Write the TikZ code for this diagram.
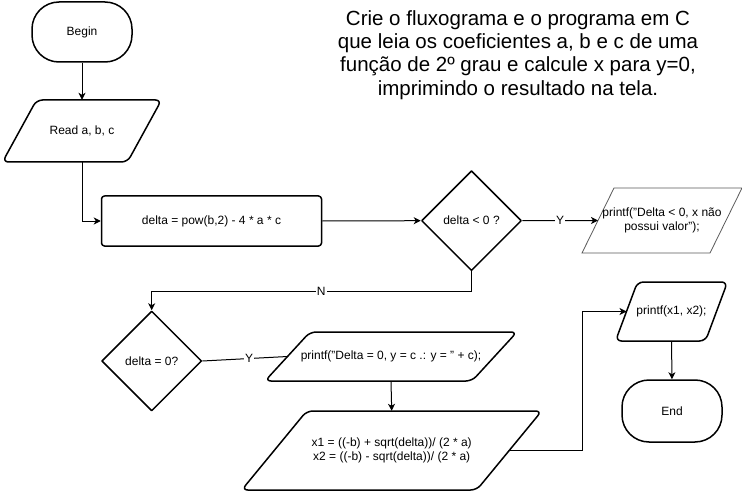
\documentclass[tikz,border=0pt]{standalone}
\usepackage{fontspec}
\setmainfont{Liberation Sans}
\usetikzlibrary{shapes.geometric,arrows.meta}
\tikzset{
  shp/.style={draw=black, line width=1.5pt, line join=round},
  term/.style={shp, rectangle, rounded corners=27pt, minimum width=100pt, minimum height=60pt, inner sep=0pt, font=\fontsize{12}{14}\selectfont},
  procbox/.style={shp, rectangle, rounded corners=3pt, minimum width=220pt, minimum height=50pt, inner sep=0pt, font=\fontsize{12}{14}\selectfont},
  decision/.style={shp, diamond, aspect=1, minimum width=100pt, minimum height=100pt, inner sep=0pt, font=\fontsize{12}{14}\selectfont},
  txt/.style={inner sep=0pt, align=center, font=\fontsize{12}{14.5}\selectfont},
  paraline/.style={shp, rounded corners=6pt},
  grayline/.style={draw=black!65, line width=0.8pt},
  conn/.style={draw=black, line width=1pt, -{Stealth[length=7pt,width=7pt,inset=2pt]}},
  plainline/.style={draw=black, line width=1pt},
  lbl/.style={fill=white, inner sep=1pt, font=\fontsize{12}{14}\selectfont},
}
\newcommand{\flowpara}[8]{%
  \draw[#1] ({#3-#5/2-#7/2},{#4+#6/2}) -- ({#3-#5/2+#7/2},{#4-#6/2}) -- ({#3+#5/2+#7/2},{#4-#6/2}) -- ({#3+#5/2-#7/2},{#4+#6/2}) -- cycle;
  \node[txt, minimum height=#6] (#2) at (#3,#4) {#8};
  \coordinate (#2-w) at ({#3-#5/2},#4);
  \coordinate (#2-e) at ({#3+#5/2},#4);
}
\begin{document}
\begin{tikzpicture}[x=1pt,y=-1pt]
\useasboundingbox (0,0) rectangle (742,492);

% title
\node[align=center, inner sep=0pt, font=\fontsize{20.5}{23.3}\selectfont] (title) at (518,55)
  {Crie o fluxograma e o programa em C\\que leia os coeficientes a, b e c de uma\\função de 2º grau e calcule x para y=0,\\imprimindo o resultado na tela.};

% shapes
\node[term] (begin) at (82,32) {Begin};
\flowpara{paraline}{read}{82}{131}{125}{62}{34}{Read a, b, c}
\node[procbox] (calc) at (211.5,221) {delta = pow(b,2) - 4 * a * c};
\node[decision] (d1) at (471.5,220.7) {delta {\char`<} 0 ?};
\flowpara{grayline}{p0}{662}{220.5}{128}{65}{32}{printf("Delta {\char`<} 0, x não\\possui valor");}
\node[decision] (d2) at (151.7,361) {delta = 0?};
\flowpara{paraline}{p1}{391}{356.5}{207}{49}{45}{\raisebox{-1.5pt}{printf("Delta = 0, y = c .: y = " + c);}}
\flowpara{paraline}{p2}{391.7}{450.5}{235}{79}{65}{x1 = ((-b) + sqrt(delta))/ (2 * a)\\x2 = ((-b) - sqrt(delta))/ (2 * a)}
\flowpara{paraline}{p3}{671.5}{311.5}{90}{59}{22}{printf(x1, x2);}
\node[term, minimum height=62pt] (end) at (672,411) {End};

% connectors
\coordinate (nturn) at (471.5,291);
\draw[conn] (begin.south) -- (read.north);
\draw[conn] (read.south) |- (calc.west);
\draw[conn] (calc.east) -- (d1.west);
\draw[conn] (d1.east) -- node[lbl]{Y} (p0-w);
\draw[plainline] (d1.south) -- (nturn);
\draw[conn] (nturn) -| node[lbl, pos=0.235]{N} (d2.north);
\draw[plainline] (d2.east) -- node[lbl, pos=0.55]{Y} (p1-w);
\draw[conn] (p1.south) -- (p2.north);
\draw[conn] (p2-e) -- ++(73,0) |- (p3-w);
\draw[conn] (p3.south) -- (end.north);
\end{tikzpicture}
\end{document}
